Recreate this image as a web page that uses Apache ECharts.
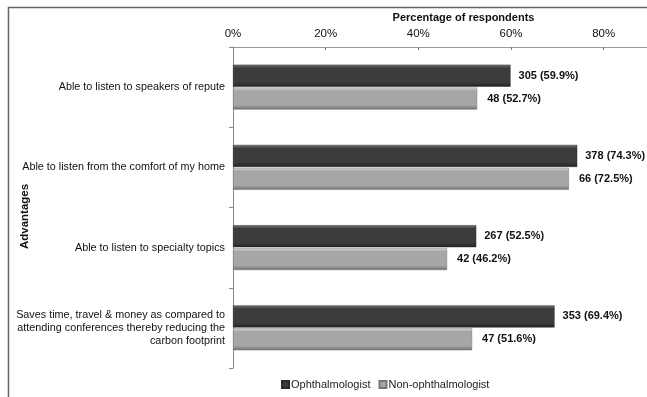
<!DOCTYPE html>
<html lang="en">
<head>
    <meta charset="UTF-8">
    <title>Advantages</title>
    <script src="https://cdn.jsdelivr.net/npm/echarts@6/dist/echarts.min.js"></script>
    <style>
        html, body { margin: 0; padding: 0; background: #fff; }
        #main { width: 647px; height: 397px; }
    </style>
</head>
<body>
<div id="main"></div>
<script>
    // categories, top to bottom
    var categories = [
        'Able to listen to speakers of repute',
        'Able to listen from the comfort of my home',
        'Able to listen to specialty topics',
        'Saves time, travel & money as compared to\nattending conferences thereby reducing the\ncarbon footprint'
    ];
    var ophthCount = [305, 378, 267, 353];
    var ophthPct = [59.9, 74.3, 52.5, 69.4];
    var nonCount = [48, 66, 42, 47];
    var nonPct = [52.7, 72.5, 46.2, 51.6];
    var tickValues = [0, 20, 40, 60, 80];

    var font = 'Liberation Sans, Arial, sans-serif';

    function grad(top, mid, bot) {
        return new echarts.graphic.LinearGradient(0, 0, 0, 1, [
            {offset: 0, color: top},
            {offset: 0.15, color: mid},
            {offset: 0.8, color: mid},
            {offset: 1, color: bot}
        ]);
    }

    function makeData(pcts, counts) {
        return pcts.map(function (p, i) {
            return {value: p, count: counts[i]};
        });
    }

    var myChart = echarts.init(document.getElementById('main'));
    var option = {
        animation: false,
        textStyle: {fontFamily: font},
        color: ['#3c3c3c', '#a6a6a6'],
        graphic: [{
            type: 'rect',
            shape: {x: 8.5, y: 7.5, width: 700, height: 420},
            style: {fill: 'none', stroke: '#666', lineWidth: 1.5},
            silent: true
        }],
        legend: {
            bottom: 2,
            left: 276,
            itemWidth: 7,
            itemHeight: 7,
            itemGap: 8,
            icon: 'rect',
            textStyle: {fontSize: 11, color: '#222', fontFamily: font, padding: [0, 0, 0, -3]},
            data: ['Ophthalmologist', 'Non-ophthalmologist']
        },
        grid: {
            left: 233,
            right: -3,
            top: 47,
            bottom: 29,
            containLabel: false,
            outerBoundsMode: 'none'
        },
        xAxis: {
            type: 'value',
            position: 'top',
            min: 0,
            max: 90,
            interval: 20,
            name: 'Percentage of respondents',
            nameLocation: 'middle',
            nameGap: 24,
            nameMoveOverlap: false,
            nameTextStyle: {fontSize: 11, fontWeight: 'bold', color: '#111', fontFamily: font, padding: [0, 0, 0, 44]},
            axisLine: {show: true, lineStyle: {color: '#999'}},
            axisTick: {show: true, inside: true, length: 3, lineStyle: {color: '#777'}},
            splitLine: {show: false},
            axisLabel: {
                fontSize: 11.5, color: '#111', margin: 7, showMaxLabel: false,
                formatter: function (v) { return tickValues.indexOf(v) >= 0 ? v + '%' : ''; }
            }
        },
        yAxis: {
            type: 'category',
            inverse: true,
            data: categories,
            name: 'Advantages',
            nameLocation: 'middle',
            nameGap: 202,
            nameMoveOverlap: false,
            nameRotate: 90,
            nameTextStyle: {fontSize: 11.5, fontWeight: 'bold', color: '#111', fontFamily: font, padding: [0, 18, 0, 0]},
            axisLine: {show: true, lineStyle: {color: '#888'}},
            axisTick: {show: true, length: 4, lineStyle: {color: '#888'}},
            axisLabel: {fontSize: 10.8, color: '#111', margin: 8, align: 'right', lineHeight: 13}
        },
        series: [
            {
                name: 'Ophthalmologist',
                type: 'bar',
                barWidth: 22,
                barGap: '4%',
                data: makeData(ophthPct, ophthCount),
                itemStyle: {color: grad('#7a7a7a', '#3c3c3c', '#222'), borderColor: '#2a2a2a', borderWidth: 0.5},
                label: {
                    show: true, position: 'right', distance: 8,
                    fontSize: 11, fontWeight: 'bold', color: '#111', fontFamily: font,
                    formatter: function (p) { return p.data.count + ' (' + p.data.value.toFixed(1) + '%)'; }
                }
            },
            {
                name: 'Non-ophthalmologist',
                type: 'bar',
                barWidth: 22,
                data: makeData(nonPct, nonCount),
                itemStyle: {color: grad('#dedede', '#a6a6a6', '#6e6e6e'), borderColor: '#777', borderWidth: 0.5},
                label: {
                    show: true, position: 'right', distance: 10,
                    fontSize: 11, fontWeight: 'bold', color: '#111', fontFamily: font,
                    formatter: function (p) { return p.data.count + ' (' + p.data.value.toFixed(1) + '%)'; }
                }
            }
        ]
    };
    myChart.setOption(option);
</script>
</body>
</html>
